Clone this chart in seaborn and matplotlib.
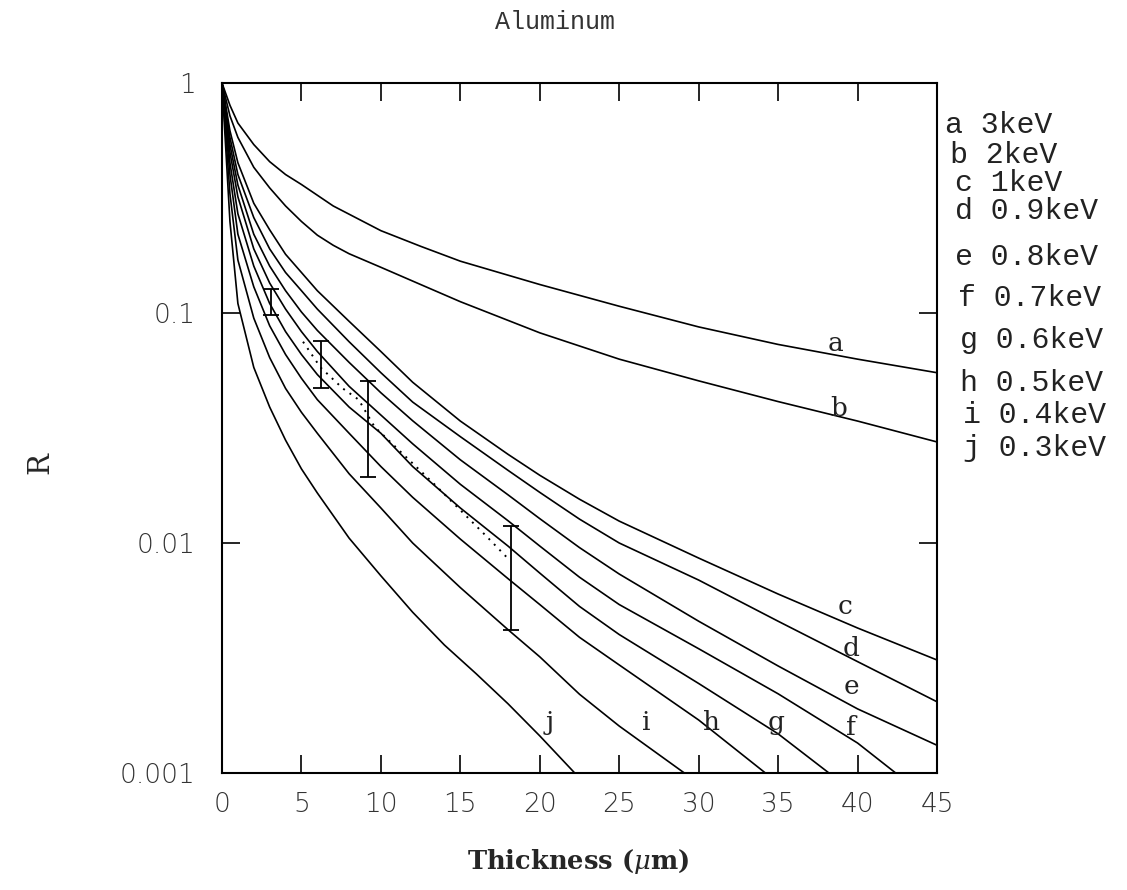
import numpy as np
import pandas as pd
import seaborn as sns
import matplotlib
matplotlib.use("Agg")
import matplotlib.pyplot as plt
from matplotlib.ticker import FixedLocator, NullLocator

# curve data (thickness in um, R)
x_a = [0, 0.5, 1, 2, 3, 4, 5, 7, 10, 12.5, 15, 20, 25, 30, 35, 40, 45]
r_a = [1, 0.80, 0.67, 0.54, 0.455, 0.40, 0.362, 0.292, 0.228, 0.195, 0.168, 0.133, 0.107, 0.087, 0.073, 0.063, 0.055]

x_b = [0, 0.5, 1, 2, 3, 4, 5, 6, 7, 8, 10, 12.5, 15, 20, 25, 30, 35, 40, 45]
r_b = [1, 0.72, 0.58, 0.43, 0.35, 0.292, 0.25, 0.218, 0.197, 0.181, 0.158, 0.133, 0.112, 0.082, 0.063, 0.0507, 0.0412, 0.0339, 0.0275]

x_grid = [0, 0.5, 1, 2, 3, 4, 5, 6, 8, 10, 12, 15, 18, 20, 22.5, 25, 30, 35, 40, 45]
r_c = [1, 0.62, 0.45, 0.30, 0.23, 0.18, 0.15, 0.125, 0.092, 0.068, 0.050, 0.0339, 0.0243, 0.0197, 0.0155, 0.01245, 0.0086, 0.0060, 0.00427, 0.0031]
r_d = [1, 0.58, 0.40, 0.26, 0.19, 0.15, 0.125, 0.104, 0.075, 0.055, 0.041, 0.029, 0.0207, 0.0166, 0.0127, 0.0100, 0.0069, 0.00457, 0.00305, 0.00204]
r_e = [1, 0.54, 0.36, 0.22, 0.16, 0.125, 0.101, 0.084, 0.061, 0.045, 0.034, 0.023, 0.0162, 0.01276, 0.00955, 0.00733, 0.00457, 0.00292, 0.0019, 0.00132]

x_f = [0, 0.5, 1, 2, 3, 4, 5, 6, 8, 10, 12, 15, 18, 20, 22.5, 25, 30, 35, 40, 42.4]
r_f = [1, 0.50, 0.32, 0.19, 0.135, 0.104, 0.083, 0.068, 0.048, 0.036, 0.027, 0.018, 0.0125, 0.0097, 0.0071, 0.0054, 0.00347, 0.00221, 0.00135, 0.001]

x_g = [0, 0.5, 1, 2, 3, 4, 5, 6, 8, 10, 12, 15, 18, 20, 22.5, 25, 30, 35, 38.2]
r_g = [1, 0.45, 0.27, 0.16, 0.11, 0.083, 0.066, 0.054, 0.039, 0.030, 0.0215, 0.0142, 0.0097, 0.0074, 0.0053, 0.0040, 0.00245, 0.00148, 0.001]

x_h = [0, 0.5, 1, 2, 3, 4, 5, 6, 8, 10, 12, 15, 18, 20, 22.5, 25, 30, 34.2]
r_h = [1, 0.40, 0.22, 0.13, 0.088, 0.066, 0.052, 0.042, 0.030, 0.0215, 0.0158, 0.0104, 0.0070, 0.0054, 0.00389, 0.00295, 0.0017, 0.001]

x_i = [0, 0.5, 1, 2, 3, 4, 5, 6, 8, 10, 12, 15, 18, 20, 22.5, 25, 29.1]
r_i = [1, 0.33, 0.17, 0.095, 0.064, 0.047, 0.037, 0.030, 0.020, 0.0142, 0.0100, 0.0064, 0.0042, 0.0032, 0.0022, 0.0016, 0.001]

x_j = [0, 0.5, 1, 2, 3, 4, 5, 6, 8, 10, 12, 14, 16, 18, 20, 22.2]
r_j = [1, 0.25, 0.11, 0.058, 0.039, 0.028, 0.021, 0.0165, 0.0105, 0.0072, 0.0050, 0.0036, 0.0027, 0.0020, 0.00145, 0.001]

# measured points (error bars) and the dotted curve
eb_x = [3.1, 6.2, 9.2, 18.2]
eb_lo = [0.098, 0.047, 0.0194, 0.0042]
eb_hi = [0.127, 0.0755, 0.0506, 0.0119]

dot_x = [5.1, 6.2, 7.6, 8.6, 9.6, 13.3, 15.0, 16.7, 17.9]
dot_r = [0.075, 0.058, 0.047, 0.042, 0.032, 0.0182, 0.0139, 0.0106, 0.0087]

names = ['a', 'b', 'c', 'd', 'e', 'f', 'g', 'h', 'i', 'j']
energies = ['3keV', '2keV', '1keV', '0.9keV', '0.8keV', '0.7keV', '0.6keV', '0.5keV', '0.4keV', '0.3keV']

# label positions for the curve letters (data coords)
lab_x = [38.6, 38.8, 39.2, 39.6, 39.6, 39.6, 34.9, 30.8, 26.7, 20.6]
lab_r = [0.074, 0.0386, 0.00527, 0.00349, 0.00237, 0.00158, 0.00165, 0.00165, 0.00165, 0.00165]

frames = []
for n, xs, rs in [('a', x_a, r_a), ('b', x_b, r_b), ('c', x_grid, r_c), ('d', x_grid, r_d),
                  ('e', x_grid, r_e), ('f', x_f, r_f), ('g', x_g, r_g), ('h', x_h, r_h),
                  ('i', x_i, r_i), ('j', x_j, r_j)]:
    frames.append(pd.DataFrame({'Thickness': xs, 'R': rs, 'curve': n}))
df = pd.concat(frames, ignore_index=True)

sns.set_style('ticks')
plt.rcParams['font.family'] = ['Liberation Mono', 'DejaVu Sans']
plt.rcParams['mathtext.fontset'] = 'dejavuserif'

fig = plt.figure(figsize=(11.27, 8.9), dpi=100)
ax = fig.add_axes([222 / 1127, 1 - 773 / 890, (937 - 222) / 1127, (773 - 83) / 890])
ax.set_yscale('log')

sns.lineplot(data=df, x='Thickness', y='R', hue='curve', palette=['black'] * 10,
             estimator=None, sort=False, legend=False, linewidth=1.2, ax=ax)
sns.lineplot(x=dot_x, y=dot_r, color='black', linestyle=(0, (1, 3)), linewidth=1.4, ax=ax)

eb_lo = np.array(eb_lo)
eb_hi = np.array(eb_hi)
ax.errorbar(eb_x, eb_lo, yerr=[np.zeros(len(eb_lo)), eb_hi - eb_lo], fmt='none',
            ecolor='black', elinewidth=1.3, capsize=6, capthick=1.3)

ax.set_xlim(0, 45)
ax.set_ylim(0.001, 1)
ax.xaxis.set_major_locator(FixedLocator(np.arange(0, 46, 5)))
ax.yaxis.set_major_locator(FixedLocator([0.001, 0.01, 0.1, 1]))
ax.yaxis.set_minor_locator(NullLocator())
ax.set_yticklabels(['0.001', '0.01', '0.1', '1'])
ax.tick_params(axis='both', which='major', direction='in', top=True, right=True,
               length=13, width=1.2, colors='black')
ax.tick_params(axis='x', pad=14)
ax.tick_params(axis='y', pad=19)
for lab in ax.get_xticklabels() + ax.get_yticklabels():
    lab.set_fontfamily('DejaVu Sans')
    lab.set_fontweight('light')
    lab.set_fontsize(19)
    lab.set_color('#333333')
for sp in ax.spines.values():
    sp.set_linewidth(1.5)
    sp.set_color('black')

ax.set_xlabel('')
ax.set_ylabel('')
fig.text(578 / 1127, 1 - 862 / 890, r'Thickness ($\mu$m)', fontfamily='DejaVu Serif',
         fontweight='bold', fontsize=18.5, ha='center', va='center')
fig.text(40 / 1127, 1 - 463 / 890, 'R', fontfamily='DejaVu Serif', fontsize=21,
         rotation=90, ha='center', va='center')

for n, lx, ly in zip(names, lab_x, lab_r):
    ax.text(lx, ly, n, fontsize=19, fontfamily='DejaVu Serif', ha='center', va='center',
            color='#222222')

fig.text(555 / 1127, 1 - 22 / 890, 'Aluminum', fontsize=18, ha='center', va='center',
         fontfamily='Liberation Mono', color='#333333')

leg_x = [945, 950, 955, 955, 955, 958, 960, 960, 963, 963]
leg_y = [125, 155, 183, 211, 257, 298, 340, 383, 415, 448]
for n, en, lx, ly in zip(names, energies, leg_x, leg_y):
    fig.text(lx / 1127, 1 - ly / 890, n + ' ' + en, fontsize=21.5, ha='left', va='center',
             fontfamily='Liberation Mono', color='#222222')

fig.savefig('out.png', dpi=100)
